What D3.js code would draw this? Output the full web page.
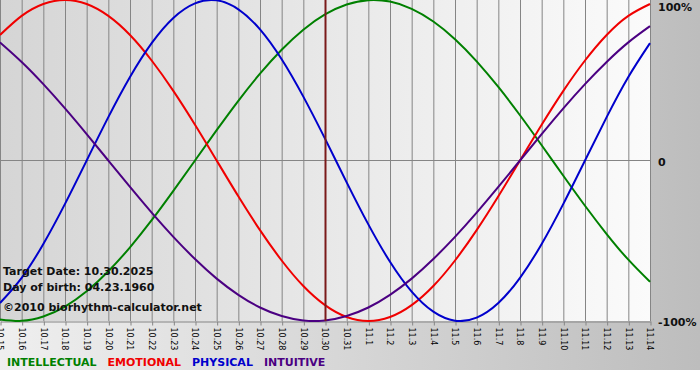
<!DOCTYPE html>
<html>
<head>
<meta charset="utf-8">
<title>Biorhythm</title>
<script src="https://d3js.org/d3.v7.min.js"></script>
<style>
  body { margin: 0; background: #fff; }
  svg { display: block; }
</style>
</head>
<body>
<script>
// dates on the x axis
const days = ["10.15","10.16","10.17","10.18","10.19","10.20","10.21","10.22","10.23","10.24",
              "10.25","10.26","10.27","10.28","10.29","10.30","10.31","11.1","11.2","11.3",
              "11.4","11.5","11.6","11.7","11.8","11.9","11.10","11.11","11.12","11.13","11.14"];
const targetDay = "10.30";

// values in percent, one per day
const intellectual = [-99.0,-99.9,-97.2,-91.0,-81.5,-69.0,-54.1,-37.2,-18.9,0,18.9,37.2,54.1,69.0,81.5,91.0,
                      97.2,99.9,99.0,94.5,86.6,75.6,61.8,45.8,28.2,9.5,-9.5,-28.2,-45.8,-61.8,-75.6];
const emotional    = [78.2,90.1,97.5,100,97.5,90.1,78.2,62.3,43.4,22.3,0,-22.3,-43.4,-62.3,-78.2,-90.1,
                      -97.5,-100,-97.5,-90.1,-78.2,-62.3,-43.4,-22.3,0,22.3,43.4,62.3,78.2,90.1,97.5];
const physical     = [-88.8,-73.1,-52.0,-27.0,0,27.0,52.0,73.1,88.8,97.9,99.8,94.2,81.7,63.1,39.8,13.6,
                      -13.6,-39.8,-63.1,-81.7,-94.2,-99.8,-97.9,-88.8,-73.1,-52.0,-27.0,0,27.0,52.0,73.1];
const intuitive    = [73.6,61.4,47.6,32.5,16.5,0,-16.5,-32.5,-47.6,-61.4,-73.6,-83.7,-91.6,-96.9,-99.7,-99.7,
                      -96.9,-91.6,-83.7,-73.6,-61.4,-47.6,-32.5,-16.5,0,16.5,32.5,47.6,61.4,73.6,83.7];

const yTicks = [100, 0, -100];
const yTickLabels = ["100%", "0", "-100%"];

const series = [
  {name: "INTELLECTUAL", values: intellectual, color: "#008000"},
  {name: "EMOTIONAL",    values: emotional,    color: "#f00000"},
  {name: "PHYSICAL",     values: physical,     color: "#0000cc"},
  {name: "INTUITIVE",    values: intuitive,    color: "#4b0082"}
];

const width = 700, height = 380;
const plotW = 650, plotH = 321;

const svg = d3.select("body").append("svg")
  .attr("width", width)
  .attr("height", height);

const defs = svg.append("defs");
const outerGrad = defs.append("linearGradient").attr("id", "outerGrad");
outerGrad.append("stop").attr("offset", "0%").attr("stop-color", "#efefef");
outerGrad.append("stop").attr("offset", "100%").attr("stop-color", "#bdbdbd");
const plotGrad = defs.append("linearGradient").attr("id", "plotGrad");
plotGrad.append("stop").attr("offset", "0%").attr("stop-color", "#d5d5d5");
plotGrad.append("stop").attr("offset", "100%").attr("stop-color", "#fbfbfb");

svg.append("rect").attr("width", width).attr("height", 370).attr("fill", "url(#outerGrad)");
svg.append("rect").attr("width", plotW).attr("height", plotH).attr("fill", "url(#plotGrad)");

const x = d3.scalePoint().domain(days).range([0, plotW]);
const y = d3.scaleLinear().domain([-100, 100]).range([plotH, 0]);

// vertical grid
svg.append("g")
  .selectAll("line")
  .data(days)
  .join("line")
  .attr("x1", d => x(d) + 0.5).attr("x2", d => x(d) + 0.5)
  .attr("y1", 0).attr("y2", plotH)
  .attr("stroke", "#858585")
  .attr("stroke-width", 1);

// zero line
svg.append("line")
  .attr("x1", 0).attr("x2", plotW)
  .attr("y1", Math.round(y(0)) - 0.5).attr("y2", Math.round(y(0)) - 0.5)
  .attr("stroke", "#858585");

// x axis
const xAxis = svg.append("g")
  .attr("transform", "translate(0.5," + (plotH + 0.5) + ")")
  .call(d3.axisBottom(x).tickSize(4).tickSizeOuter(0));
xAxis.select(".domain").attr("stroke", "#858585");
xAxis.selectAll(".tick line").attr("stroke", "#858585");
xAxis.selectAll(".tick text")
  .attr("font-family", "'DejaVu Sans', Verdana, sans-serif")
  .attr("font-size", 8)
  .attr("fill", "#000")
  .attr("text-anchor", "start")
  .attr("y", 0).attr("dy", "0.32em")
  .attr("transform", "translate(-1,6) rotate(90)");

// right-hand labels
svg.append("g")
  .selectAll("text")
  .data(yTicks)
  .join("text")
  .attr("x", 658)
  .attr("y", d => Math.max(y(d) + 5, 11))
  .attr("font-family", "'DejaVu Sans', Verdana, sans-serif")
  .attr("font-weight", "bold")
  .attr("font-size", 11)
  .attr("fill", "#111")
  .text((d, i) => yTickLabels[i]);

// curves
const line = d3.line()
  .x((d, i) => x(days[i]))
  .y(d => y(d))
  .curve(d3.curveNatural);

const plot = svg.append("g");
plot.append("clipPath").attr("id", "clip")
  .append("rect").attr("x", -2).attr("y", 0).attr("width", plotW + 3).attr("height", plotH + 1);

// target date marker
svg.append("line")
  .attr("x1", x(targetDay) + 0.5).attr("x2", x(targetDay) + 0.5)
  .attr("y1", 0).attr("y2", plotH)
  .attr("stroke", "#7a1a1a")
  .attr("stroke-width", 2);

plot.selectAll("path")
  .data(series)
  .join("path")
  .attr("clip-path", "url(#clip)")
  .attr("d", d => line(d.values))
  .attr("fill", "none")
  .attr("stroke", d => d.color)
  .attr("stroke-width", 2);

// info text
const info = ["Target Date: 10.30.2025", "Day of birth: 04.23.1960", "\u00a92010 biorhythm-calculator.net"];
svg.append("g")
  .selectAll("text")
  .data(info)
  .join("text")
  .attr("x", 3)
  .attr("y", (d, i) => [275, 291, 311][i])
  .attr("font-family", "'DejaVu Sans', Verdana, sans-serif")
  .attr("font-weight", "bold")
  .attr("font-size", 11)
  .attr("fill", "#111")
  .text(d => d);

// legend
const legend = svg.append("g");
let lx = 7;
series.forEach(s => {
  const t = legend.append("text")
    .attr("x", lx).attr("y", 366)
    .attr("font-family", "'DejaVu Sans', Verdana, sans-serif")
    .attr("font-weight", "bold")
    .attr("font-size", 11)
    .attr("fill", s.color)
    .text(s.name);
  lx += t.node().getComputedTextLength() + 11;
});
</script>
</body>
</html>
